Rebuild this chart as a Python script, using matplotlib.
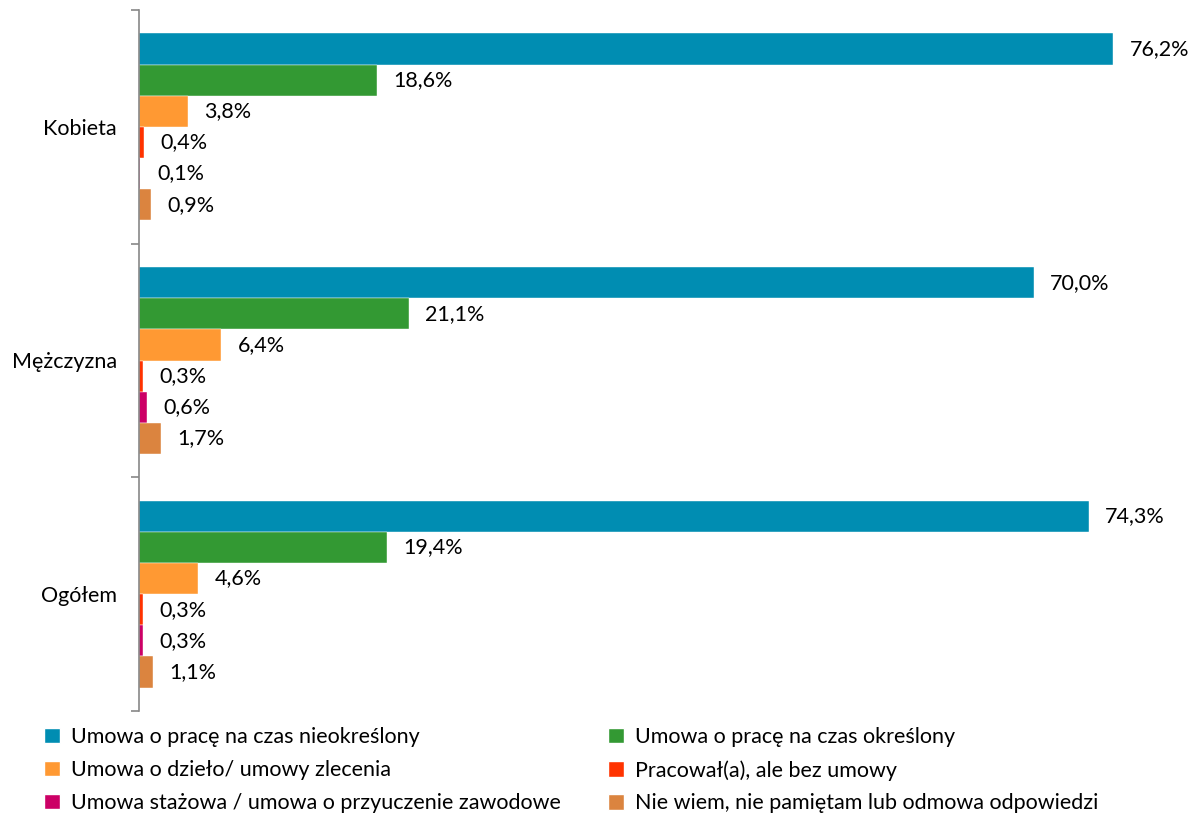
import numpy as np
import matplotlib.pyplot as plt
from matplotlib.patches import Patch

plt.rcParams['font.family'] = ['Lato', 'DejaVu Sans']

# categories, bottom to top as drawn
categories = ['Ogółem', 'Mężczyzna', 'Kobieta']
series_names = [
    'Umowa o pracę na czas nieokreślony',
    'Umowa o pracę na czas określony',
    'Umowa o dzieło/ umowy zlecenia',
    'Pracował(a), ale bez umowy',
    'Umowa stażowa / umowa o przyuczenie zawodowe',
    'Nie wiem, nie pamiętam lub odmowa odpowiedzi',
]
# values per series for [Ogółem, Mężczyzna, Kobieta]
nieokreslony = [74.3, 70.0, 76.2]
okreslony = [19.4, 21.1, 18.6]
dzielo = [4.6, 6.4, 3.8]
bez_umowy = [0.3, 0.3, 0.4]
stazowa = [0.3, 0.6, 0.1]
nie_wiem = [1.1, 1.7, 0.9]
values = [nieokreslony, okreslony, dzielo, bez_umowy, stazowa, nie_wiem]
colors = ['#008DB2', '#339933', '#FF9933', '#FF3300', '#CC0066', '#DB843F']

fs = 15.5

fig = plt.figure(figsize=(11.95, 8.14), dpi=100)
ax = fig.add_axes([139/1195, 1 - 711/814, 1048/1195, 701/814])

n = len(series_names)
h = 0.8 / n
y = np.arange(len(categories))
for i, (vals, col) in enumerate(zip(values, colors)):
    pos = y + (n/2 - 0.5 - i) * h
    ax.barh(pos, vals, height=h, color=col, edgecolor='white', linewidth=0.3)
    for p, v in zip(pos, vals):
        ax.text(v + 1.3, p, f"{v:.1f}%".replace('.', ','), va='center',
                ha='left', fontsize=fs, color='black')

ax.set_xlim(0, 82)
ax.set_ylim(-0.5, 2.5)
ax.set_xticks([])
ax.set_yticks([-0.5, 0.5, 1.5, 2.5])
ax.set_yticklabels([])
ax.set_yticks(y, minor=True)
ax.set_yticklabels(categories, minor=True, fontsize=fs)
ax.tick_params(axis='y', which='major', length=6, color='#888888', width=1.2)
ax.tick_params(axis='y', which='minor', length=0, pad=16)
for s in ['top', 'right', 'bottom']:
    ax.spines[s].set_visible(False)
ax.spines['left'].set_color('#888888')
ax.spines['left'].set_linewidth(1.2)

order = [0, 2, 4, 1, 3, 5]
handles = [Patch(facecolor=colors[k], edgecolor='white') for k in order]
labels = [series_names[k] for k in order]
fig.legend(handles, labels, loc='upper left', bbox_to_anchor=(29/1195, 1 - 712/814),
           ncol=2, frameon=False, fontsize=fs, handlelength=0.75, handleheight=0.75,
           handletextpad=0.5, columnspacing=2.2, labelspacing=0.6, borderpad=0.2)

fig.savefig('out.png', dpi=100)
